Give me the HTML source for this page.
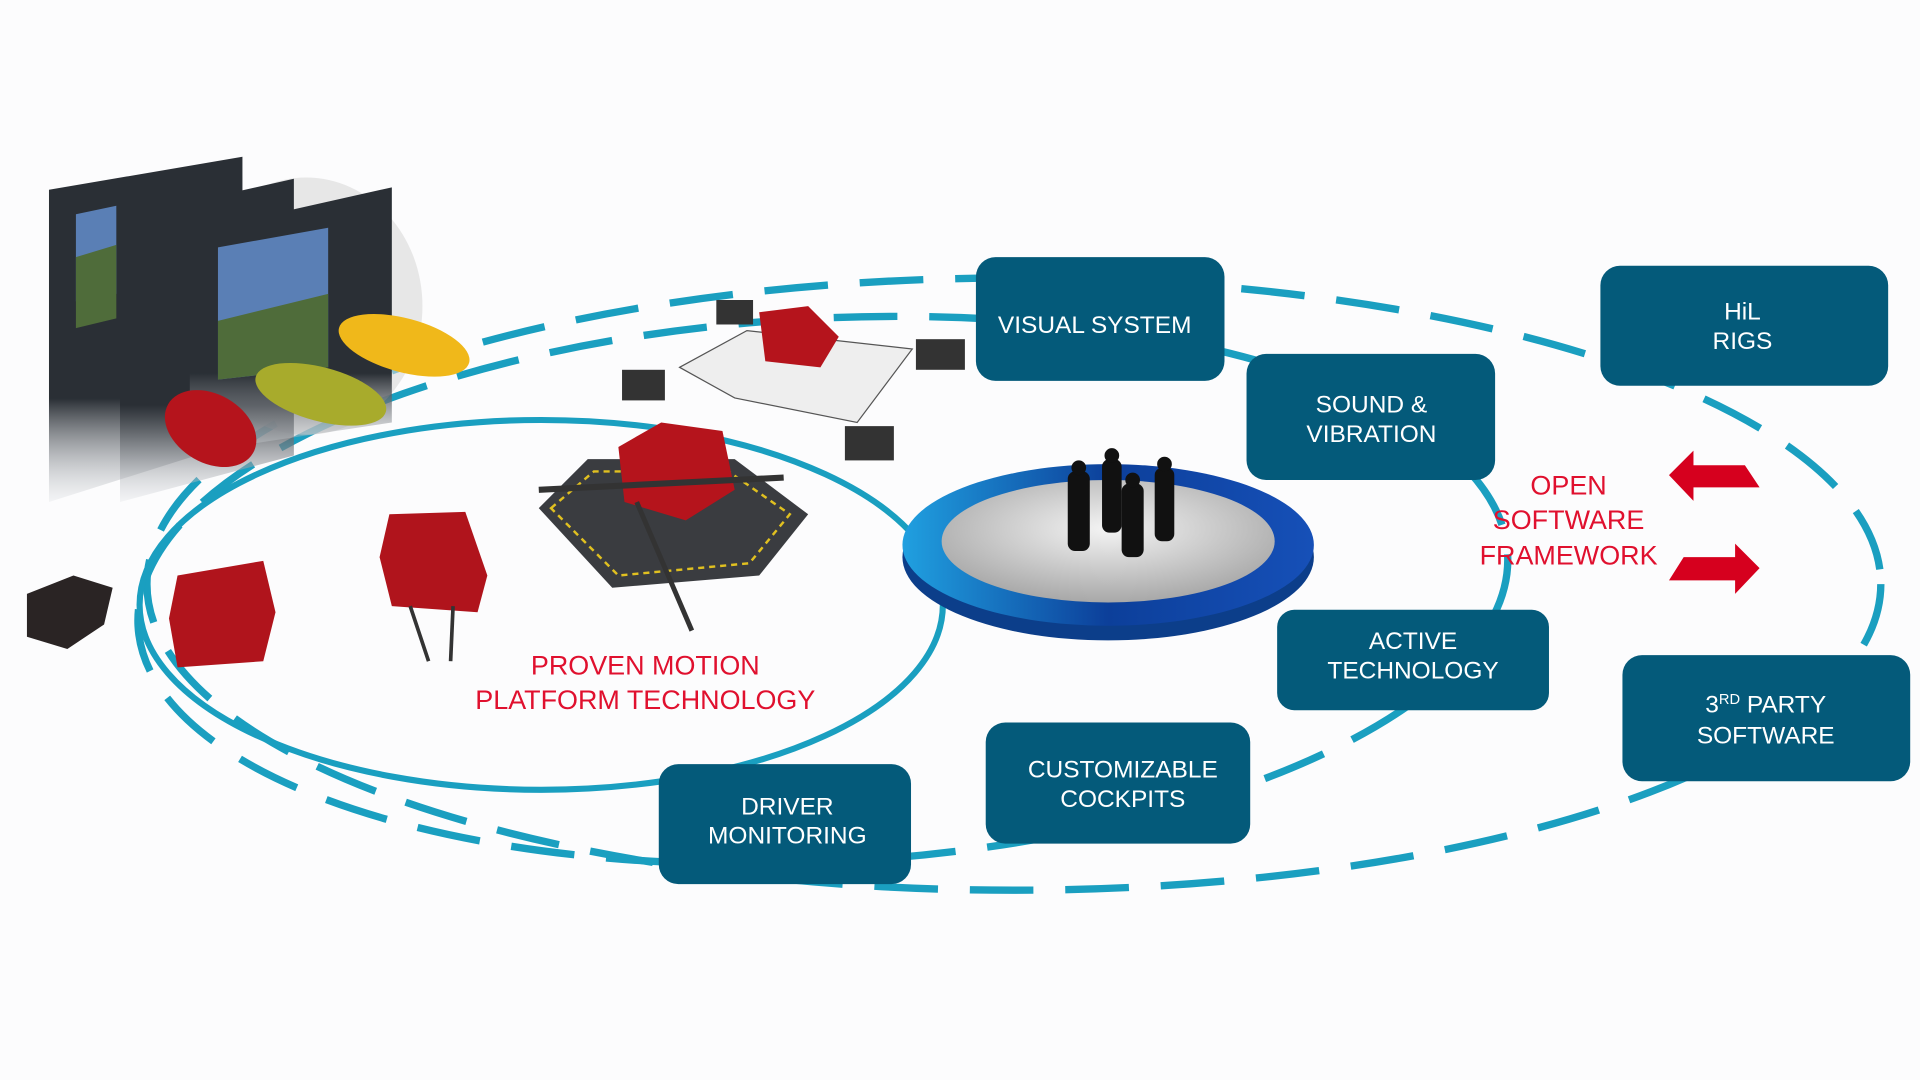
<!DOCTYPE html>
<html><head><meta charset="utf-8"><style>
html,body{margin:0;padding:0;background:#fcfcfd;overflow:hidden}
svg{display:block}
text{font-family:"Liberation Sans",sans-serif}
</style></head><body>
<svg width="1920" height="1080" viewBox="0 0 1568 882" xmlns="http://www.w3.org/2000/svg">
<defs>
<linearGradient id="scr" x1="0" y1="0" x2="0" y2="1"><stop offset="0" stop-color="#2a2f35"/><stop offset="0.7" stop-color="#2a2f35"/><stop offset="1" stop-color="#dde0e4" stop-opacity="0.3"/></linearGradient>
<radialGradient id="disc" cx="0.5" cy="0.4" r="0.6"><stop offset="0" stop-color="#f4f4f4"/><stop offset="1" stop-color="#a8a8a8"/></radialGradient>
<linearGradient id="ring" x1="0" y1="0" x2="1" y2="0"><stop offset="0" stop-color="#20a0e0"/><stop offset="0.5" stop-color="#0c3f9a"/><stop offset="1" stop-color="#1650b8"/></linearGradient>
</defs>
<rect width="1568" height="882" fill="#fcfcfd"/>
<!-- ellipses -->
<ellipse cx="828" cy="477" rx="708" ry="250" fill="none" stroke="#1a9fc0" stroke-width="6" stroke-dasharray="52 26"/>
<ellipse cx="672" cy="482" rx="560" ry="222" fill="none" stroke="#1a9fc0" stroke-width="6" stroke-dasharray="52 26" transform="rotate(-3 672 482)"/>
<ellipse cx="442" cy="494" rx="328" ry="151" fill="none" stroke="#1a9fc0" stroke-width="5"/>
<!-- screens -->
<g>
<ellipse cx="250" cy="250" rx="95" ry="105" fill="#d8d8d8" opacity="0.6"/>
<polygon points="40,155 198,128 198,360 40,410" fill="url(#scr)"/>
<polygon points="98,178 240,146 240,372 98,410" fill="url(#scr)"/>
<polygon points="155,190 320,153 320,345 155,370" fill="url(#scr)"/>
<polygon points="178,202 268,186 268,300 178,310" fill="#5a7fb5"/>
<polygon points="178,262 268,240 268,300 178,310" fill="#4f6c3a"/>
<polygon points="62,175 95,168 95,240 62,246" fill="#5a7fb5"/>
<polygon points="62,210 95,200 95,260 62,268" fill="#4f6c3a"/>
</g>
<!-- cars -->
<ellipse cx="330" cy="282" rx="55" ry="22" fill="#f0b81a" transform="rotate(15 330 282)"/>
<ellipse cx="262" cy="322" rx="55" ry="22" fill="#a8ab2c" transform="rotate(15 262 322)"/>
<ellipse cx="172" cy="350" rx="40" ry="28" fill="#b5141c" transform="rotate(30 172 350)"/>
<polygon points="145,470 215,458 225,500 215,540 145,545 138,505" fill="#b0141c"/>
<polygon points="318,420 380,418 398,470 390,500 320,495 310,455" fill="#b0141c"/>
<line x1="335" y1="495" x2="350" y2="540" stroke="#333" stroke-width="3"/><line x1="370" y1="495" x2="368" y2="540" stroke="#333" stroke-width="3"/>
<polygon points="22,485 60,470 92,480 85,510 55,530 22,520" fill="#2a2424"/>
<!-- hexapod platform -->
<polygon points="440,415 480,375 600,375 660,420 620,470 500,480" fill="#3a3c40"/>
<polygon points="450,415 485,385 595,385 645,420 612,460 505,470" fill="none" stroke="#e0c020" stroke-width="2" stroke-dasharray="5 4"/>
<polygon points="505,365 540,345 590,352 600,400 560,425 510,410" fill="#b5141c"/>
<line x1="440" y1="400" x2="640" y2="390" stroke="#333" stroke-width="5"/><line x1="520" y1="410" x2="565" y2="515" stroke="#333" stroke-width="4"/>
<!-- top rig -->
<polygon points="555,300 610,270 745,285 700,345 600,325" fill="#eeeeee" stroke="#555" stroke-width="1"/>
<polygon points="620,255 660,250 685,275 670,300 625,295" fill="#b5141c"/>
<rect x="585" y="245" width="30" height="20" fill="#333"/><rect x="508" y="302" width="35" height="25" fill="#333"/><rect x="748" y="277" width="40" height="25" fill="#333"/><rect x="690" y="348" width="40" height="28" fill="#333"/>
<!-- central disc -->
<ellipse cx="905" cy="455" rx="168" ry="68" fill="#0c3e8a"/>
<ellipse cx="905" cy="445" rx="168" ry="66" fill="url(#ring)"/>
<ellipse cx="905" cy="442" rx="136" ry="50" fill="url(#disc)"/>
<g fill="#111">
<rect x="872" y="385" width="18" height="65" rx="6"/><circle cx="881" cy="382" r="6"/>
<rect x="900" y="375" width="16" height="60" rx="6"/><circle cx="908" cy="372" r="6"/>
<rect x="916" y="395" width="18" height="60" rx="6"/><circle cx="925" cy="392" r="6"/>
<rect x="943" y="382" width="16" height="60" rx="6"/><circle cx="951" cy="379" r="6"/>
</g>
<!-- boxes -->
<g fill="#045a7a">
<rect x="797" y="210" width="203" height="101" rx="16"/>
<rect x="1018" y="289" width="203" height="103" rx="16"/>
<rect x="1307" y="217" width="235" height="98" rx="16"/>
<rect x="1043" y="498" width="222" height="82" rx="14"/>
<rect x="1325" y="535" width="235" height="103" rx="16"/>
<rect x="805" y="590" width="216" height="99" rx="16"/>
<rect x="538" y="624" width="206" height="98" rx="16"/>
</g>
<g fill="#fff" font-size="20" text-anchor="middle">
<text x="894" y="272">VISUAL SYSTEM</text>
<text x="1120" y="337">SOUND &amp;</text><text x="1120" y="361">VIBRATION</text>
<text x="1423" y="261">HiL</text><text x="1423" y="285">RIGS</text>
<text x="1154" y="530">ACTIVE</text><text x="1154" y="554">TECHNOLOGY</text>
<text x="1442" y="582">3<tspan font-size="12" dy="-7">RD</tspan><tspan dy="7"> PARTY</tspan></text><text x="1442" y="607">SOFTWARE</text>
<text x="917" y="635">CUSTOMIZABLE</text><text x="917" y="659">COCKPITS</text>
<text x="643" y="665">DRIVER</text><text x="643" y="689">MONITORING</text>
</g>
<g fill="#e0102e" font-size="22" text-anchor="middle">
<text x="527" y="551">PROVEN MOTION</text><text x="527" y="579">PLATFORM TECHNOLOGY</text>
<text x="1281" y="404">OPEN</text><text x="1281" y="432">SOFTWARE</text><text x="1281" y="461">FRAMEWORK</text>
</g>
<polygon points="1363,388 1383,368 1383,380 1425,380 1437,398 1383,398 1383,409" fill="#d6001e"/>
<polygon points="1437,464 1417,444 1417,455 1375,455 1363,474 1417,474 1417,485" fill="#d6001e"/>
</svg>
</body></html>
